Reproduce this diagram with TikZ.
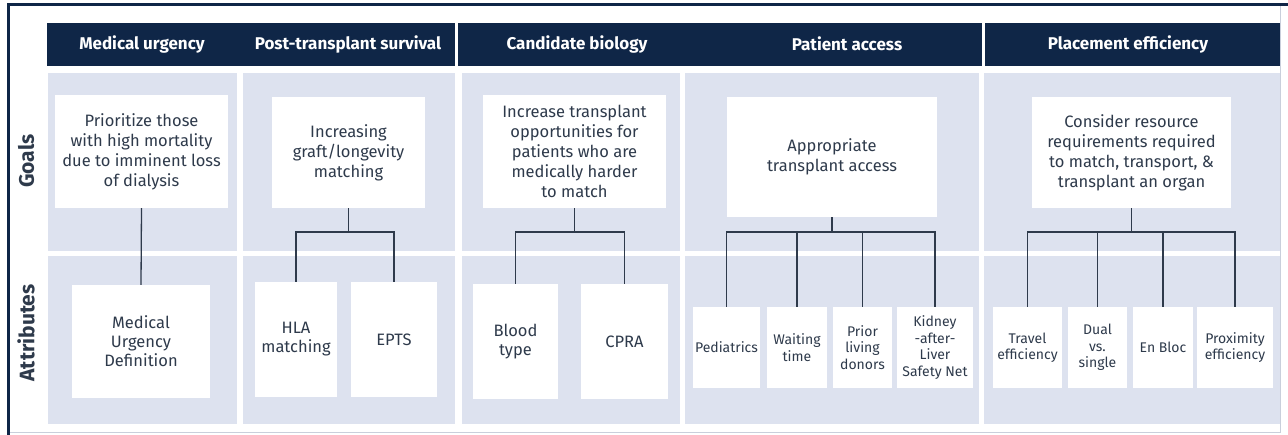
\documentclass[tikz,border=0pt]{standalone}
\usepackage{fontspec}
\setmainfont{Fira Sans}
\definecolor{navy}{HTML}{0F2647}
\definecolor{panel}{HTML}{DDE2EF}
\definecolor{ink}{HTML}{2E3A4B}
\definecolor{rim}{HTML}{C9CFDB}

\begin{document}
\begin{tikzpicture}
[x=1pt,y=-1pt,%
  headDecorate/.style={text=white,font=\bfseries\fontsize{17}{19}\selectfont},
  sideDecorate/.style={text=ink,rotate=90,font=\bfseries\fontsize{21}{23}\selectfont},
  goalDecorate/.style={fill=white,text=ink,align=center,inner sep=0pt,
    font=\fontsize{16.5}{20}\selectfont},
  attrDecorate/.style={fill=white,text=ink,align=center,inner sep=0pt,
    font=\fontsize{16.5}{19}\selectfont},
  smallDecorate/.style={attrDecorate,font=\fontsize{14}{16.5}\selectfont},
  lineDecorate/.style={-,draw=ink,line width=1.3pt}]
\useasboundingbox (0,0) rectangle (1288,435);
%% frame
\draw[rim,line width=1pt] (1280,5) -- (1280,433) -- (8,433);
\draw[navy,line width=3pt] (8,435) -- (8,5) -- (1288,5);
%% header bars
\foreach \xa/\xb in {47/455, 458/982, 985/1280}
{
  \fill[navy] (\xa,23) rectangle (\xb,66);
}
\foreach \nodename/\x/\txt in {h1/142/Medical urgency, h2/348/Post-transplant survival,
  h3/577/Candidate biology, h4/847/Patient access, h5/1128/Placement efficiency}
{
  \node (\nodename) at (\x,44) [headDecorate] {\txt};
}
%% column panels
\foreach \xa/\xb in {48/237, 243/455, 462/680, 685/979, 984/1280}
{
  \fill[panel] (\xa,73) rectangle (\xb,251);
  \fill[panel] (\xa,256) rectangle (\xb,424);
}
\node (goals) at (26,161) [sideDecorate] {Goals};
\node (attrs) at (26,333) [sideDecorate] {Attributes};
%% goals
\foreach \nodename/\x/\y/\w/\h/\txt in {
  g1/141.5/151.5/173/113/{Prioritize those\\with high mortality\\due to imminent loss\\of dialysis},
  g2/348.5/152.5/153/111/{Increasing\\graft/longevity\\matching},
  g3/574.5/151.5/183/113/{Increase transplant\\opportunities for\\patients who are\\medically harder\\to match},
  g4/832/157/210/120/{Appropriate\\transplant access},
  g5/1131.5/152.5/199/111/{Consider resource\\requirements required\\to match, transport, \&\\transplant an organ}}
{
  \node (\nodename) at (\x,\y) [goalDecorate,minimum width=\w,minimum height=\h] {\txt};
}
%% attributes
\foreach \nodename/\x/\y/\w/\h/\txt in {
  a11/141/341.5/138/113/{Medical\\Urgency\\Definition},
  a21/296/339.5/82/115/{HLA\\matching},
  a22/394/339.5/86/115/{EPTS},
  a31/515.5/341.5/85/115/{Blood\\type},
  a32/624.5/341.5/87/115/{CPRA}}
{
  \node (\nodename) at (\x,\y) [attrDecorate,minimum width=\w,minimum height=\h] {\txt};
}
\foreach \nodename/\x/\w/\txt in {
  a41/726.5/67/{Pediatrics},
  a42/797/60/{Waiting\\time},
  a43/862.5/59/{Prior\\living\\donors},
  a44/935/76/{Kidney\\-after-\\Liver\\Safety Net},
  a51/1027.5/69/{Travel\\efficiency},
  a52/1097.5/59/{Dual\\vs.\\single},
  a53/1163/60/{En Bloc},
  a54/1235/76/{Proximity\\efficiency}}
{
  \node (\nodename) at (\x,347.5) [smallDecorate,minimum width=\w,minimum height=81] {\txt};
}
%% edges
\draw[lineDecorate] (g1.south) -- (a11.north);
\foreach \goal/\kids in {g2/{a21,a22}, g3/{a31,a32}, g4/{a41,a42,a43,a44}, g5/{a51,a52,a53,a54}}
{
  \coordinate (\goal bus) at (\goal.south |- 0,232);
  \draw[lineDecorate] (\goal.south) -- (\goal bus);
  \foreach \kid in \kids
  {
    \draw[lineDecorate] (\goal bus) -| (\kid.north);
  }
}
\end{tikzpicture}
\end{document}
